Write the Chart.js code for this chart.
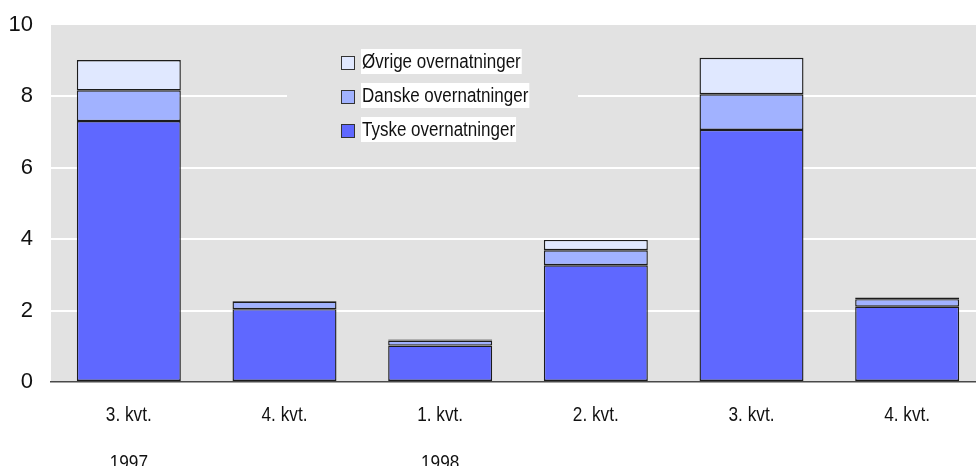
<!DOCTYPE html>
<html>
<head>
<meta charset="utf-8">
<script src="https://cdn.jsdelivr.net/npm/chart.js@4.4.1/dist/chart.umd.min.js"></script>
<style>
    body { margin: 0; background: #fff; overflow: hidden; }
    /* plot runs a few px past the right edge of the window, as in the original */
    #wrap { width: 985px; height: 466px; position: relative; }
</style>
</head>
<body>
<div id="wrap"><canvas id="chart"></canvas></div>
<script>
// Data (overnatninger, mio.)
const quarters = ['3. kvt.', '4. kvt.', '1. kvt.', '2. kvt.', '3. kvt.', '4. kvt.'];
const years = ['1997', '', '1998', '', '', ''];
const tyske = [7.31, 2.04, 1.02, 3.27, 7.06, 2.11];
const danske = [0.86, 0.21, 0.14, 0.42, 1.00, 0.21];
const ovrige = [0.85, 0.02, 0.03, 0.29, 1.02, 0.05];
const yTicks = [0, 2, 4, 6, 8, 10];

const FONT = "'Liberation Sans', Arial, sans-serif";
const NARROW = 0.82; // squeeze to look like Arial Narrow
const plotGrey = '#e2e2e2';

const colors = {
    tyske: '#5f68ff',
    danske: '#a1b2ff',
    ovrige: '#e0e8ff'
};

function narrowText(ctx, text, x, y, size, align, squeeze) {
    ctx.save();
    ctx.font = `${size}px ${FONT}`;
    ctx.textAlign = align;
    ctx.textBaseline = 'middle';
    ctx.translate(x, y);
    ctx.scale(squeeze, 1);
    ctx.fillText(text, 0, 0);
    ctx.restore();
}

// grey plot background
const plotBg = {
    id: 'plotBg',
    beforeDraw(chart) {
        const { ctx, chartArea: a } = chart;
        ctx.save();
        ctx.fillStyle = plotGrey;
        ctx.fillRect(a.left, a.top, a.right - a.left, a.bottom - a.top);
        ctx.restore();
    }
};

// legend sits inside the plot, items listed top to bottom
const innerLegend = {
    id: 'innerLegend',
    beforeDatasetsDraw(chart) {
        const { ctx } = chart;
        ctx.save();
        // grey patch hiding the grid line behind the legend
        ctx.fillStyle = plotGrey;
        ctx.fillRect(287, 46, 291, 100);

        ctx.font = `20px ${FONT}`;
        const items = chart.data.datasets.slice().reverse();
        items.forEach((ds, i) => {
            const cy = 63 + i * 34;
            ctx.fillStyle = ds.backgroundColor;
            ctx.fillRect(341, cy - 7, 14, 14);
            ctx.strokeStyle = '#333';
            ctx.lineWidth = 1;
            ctx.strokeRect(341.5, cy - 6.5, 13, 13);

            const w = ctx.measureText(ds.label).width * 0.85;
            ctx.fillStyle = '#fff';
            ctx.fillRect(361, cy - 14, w + 2, 25);
            ctx.fillStyle = '#111';
            narrowText(ctx, ds.label, 362, cy - 1, 20, 'left', 0.85);
        });
        ctx.restore();
    }
};

// category labels under the axis, quarter then year
const xLabels = {
    id: 'xLabels',
    afterDraw(chart) {
        const { ctx } = chart;
        const xs = chart.scales.x;
        ctx.save();
        ctx.fillStyle = '#111';
        chart.data.labels.forEach((lines, i) => {
            const x = xs.getPixelForValue(i);
            lines.forEach((t, j) => {
                if (t) narrowText(ctx, t, x, xs.top + 33 + j * 48, 21, 'center', NARROW);
            });
        });
        ctx.restore();
    }
};

function makeSet(label, data, color) {
    return {
        label: label,
        data: data,
        backgroundColor: color,
        borderColor: '#1c1c1c',
        borderWidth: 1.4,
        borderSkipped: false,
        barPercentage: 0.668,
        categoryPercentage: 1
    };
}

new Chart(document.getElementById('chart'), {
    type: 'bar',
    data: {
        labels: quarters.map((q, i) => [q, years[i]]),
        datasets: [
            makeSet('Tyske overnatninger', tyske, colors.tyske),
            makeSet('Danske overnatninger', danske, colors.danske),
            makeSet('Øvrige overnatninger', ovrige, colors.ovrige)
        ]
    },
    options: {
        responsive: true,
        maintainAspectRatio: false,
        animation: false,
        layout: { padding: { top: 25, right: 0, left: 0, bottom: 0 } },
        plugins: {
            legend: { display: false },
            tooltip: { enabled: false }
        },
        scales: {
            x: {
                stacked: true,
                grid: { display: false, drawTicks: false },
                border: { display: true, color: '#4a4a4a', width: 1.5 },
                ticks: { display: false },
                afterFit(scale) { scale.height = 84; }
            },
            y: {
                stacked: true,
                min: 0,
                max: 10,
                afterBuildTicks(scale) {
                    scale.ticks = yTicks.map(v => ({ value: v }));
                },
                grid: {
                    drawTicks: false,
                    lineWidth: 2,
                    color: ctx => (ctx.tick.value === 0 || ctx.tick.value === 10) ? 'rgba(0,0,0,0)' : '#ffffff'
                },
                border: { display: false },
                ticks: {
                    color: '#111',
                    padding: 18,
                    font: { family: FONT, size: 22, lineHeight: 0.5 }
                },
                afterFit(scale) { scale.width = 51; }
            }
        }
    },
    plugins: [plotBg, innerLegend, xLabels]
});
</script>
</body>
</html>
